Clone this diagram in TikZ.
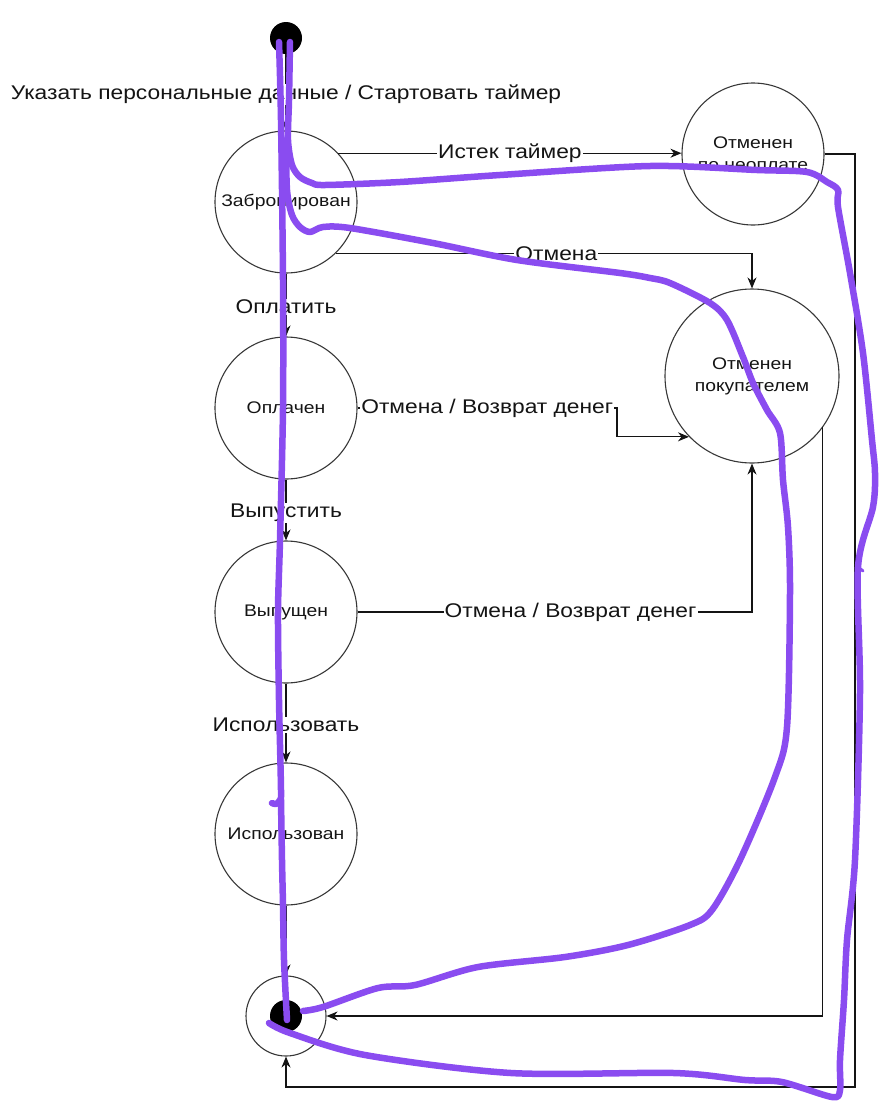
\documentclass[tikz,border=0pt]{standalone}
\usepackage{fontspec}
\setmainfont{Liberation Sans}[FakeStretch=1.15]
\usetikzlibrary{arrows.meta}
\definecolor{scribble}{RGB}{138,76,240}
\definecolor{ink}{RGB}{20,20,20}
\tikzset{
  statenode/.style={circle,draw=ink!85,line width=1.1pt,minimum size=142pt,inner sep=0pt,align=center,font=\fontsize{16.8}{22}\selectfont,text=ink},
  dotnode/.style={circle,fill=black,minimum size=32pt,inner sep=0pt},
  ringnode/.style={circle,draw=ink!85,line width=1.1pt,minimum size=80pt,inner sep=0pt},
  lbl/.style={fill=white,inner sep=1pt,font=\fontsize{19.8}{23}\selectfont,text=ink},
  arr/.style={draw=ink,line width=1.1pt,-{Stealth[length=11pt,width=9pt,inset=3.5pt]}},
  pen/.style={draw=scribble,line width=6.5pt,line cap=round,line join=round}
}
\begin{document}
\begin{tikzpicture}[x=1pt,y=-1pt]
\useasboundingbox (0,0) rectangle (894,1112);
% states
\node[dotnode] (start) at (286,38) {};
\node[statenode] (zab) at (286,202) {Забронирован};
\node[statenode] (neopl) at (753,154) {Отменен\\по неоплате};
\node[statenode,minimum size=174pt] (pokup) at (752,376) {Отменен\\покупателем};
\node[statenode] (opl) at (286,408) {Оплачен};
\node[statenode] (vyp) at (286,612) {Выпущен};
\node[statenode] (isp) at (286,834) {Использован};
\node[ringnode] (fin) at (286,1016) {};
\node[dotnode] (findot) at (286,1016) {};
\coordinate (b1) at (617,408);
\coordinate (r2) at (855,1087);
% transitions
\draw[arr] (start) -- node[lbl,yshift=-2pt]{Указать персональные данные / Стартовать таймер} (zab);
\draw[arr] (zab.43.6) -- node[lbl]{Истек таймер} (zab.43.6 -| neopl.west);
\draw[arr] (zab.-46) -| node[lbl,pos=0.265]{Отмена} (pokup.north);
\draw[arr] (zab) -- node[lbl,yshift=-2pt]{Оплатить} (opl);
\draw[arr] (opl.east) -- node[lbl]{Отмена / Возврат денег} (b1) |- (pokup.224.5);
\draw[arr] (opl) -- node[lbl,yshift=-3pt]{Выпустить} (vyp);
\draw[arr] (vyp.east) -| node[lbl,pos=0.27]{Отмена / Возврат денег} (pokup.south);
\draw[arr] (vyp) -- node[lbl,yshift=-2pt]{Использовать} (isp);
\draw[arr] (isp) -- (fin);
\draw[arr] (pokup.-36.4) |- (fin.east);
\draw[arr] (neopl.east) -| (r2) -| (fin.south);
% scribble overlay
\draw[pen] plot[smooth,tension=0.5] coordinates {(279,42) (281,120) (283,280) (283,408) (280,540) (278,612) (279,700) (281,790) (280,800) (276,804) (272,803)};
\draw[pen] plot[smooth,tension=0.5] coordinates {(281,800) (282,860) (283,905) (284,960) (287,1020)};
\draw[pen] plot[smooth,tension=0.5] coordinates {(290,42) (289,100) (288,140) (292,165) (300,177) (312,183) (325,185) (400,182) (500,175) (650,166) (757,170) (807,172) (827,182) (838,190) (838,207) (850,273) (863,353) (872,440) (875,473) (873,507) (858,567) (860,693) (855,860) (847,940) (844,1000) (840,1060) (840,1090) (832,1097) (782,1082) (745,1080) (674,1073) (511,1073) (365,1055) (290,1033) (269,1023)};
\draw[pen,line width=3pt] (858,567) -- (863,571);
\draw[pen] plot[smooth,tension=0.5] coordinates {(286,140) (287,190) (292,215) (300,227) (310,232) (323,227) (350,228) (433,243) (517,260) (620,273) (650,278) (670,283) (710,303) (727,320) (743,357) (753,383) (767,410) (780,433) (783,480) (788,527) (790,593) (787,727) (775,777) (740,860) (712,910) (690,925) (628,945) (565,957) (478,967) (415,985) (378,988) (323,1007) (303,1011)};
\end{tikzpicture}
\end{document}
